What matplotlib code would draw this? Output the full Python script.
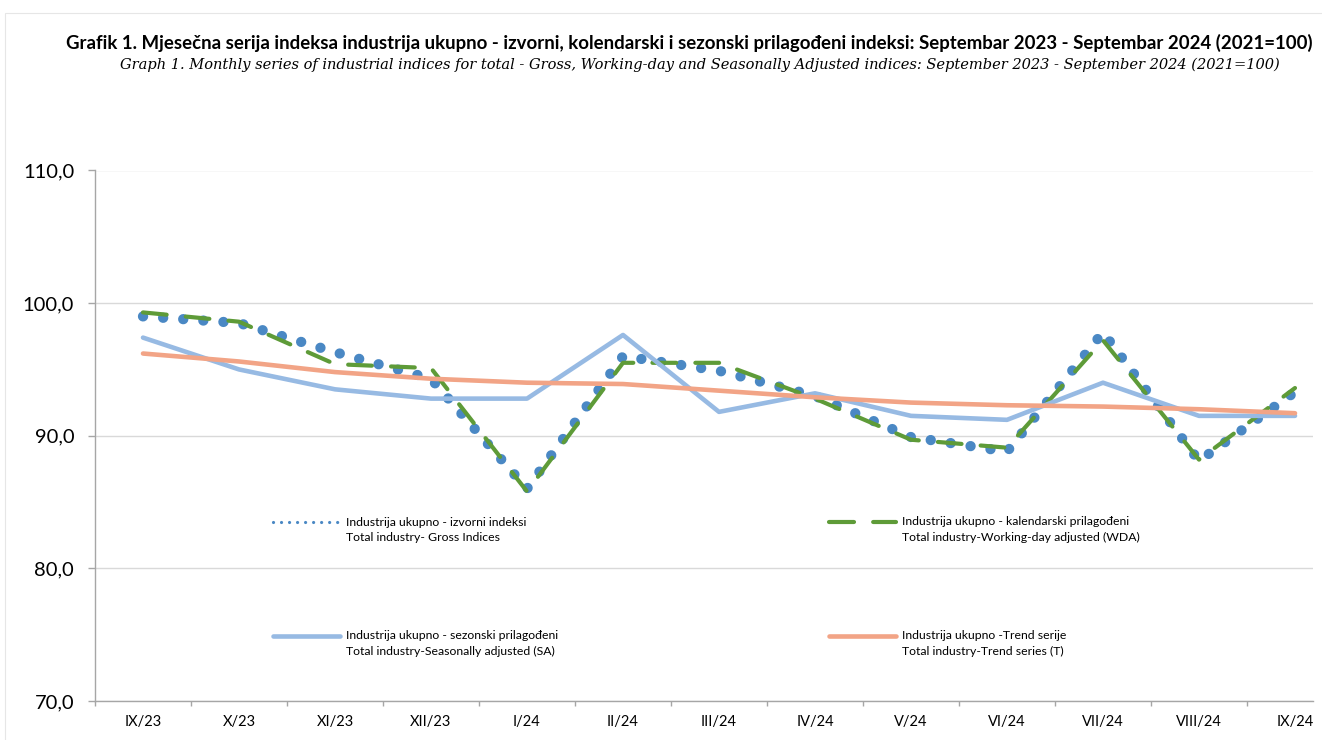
import numpy as np
import matplotlib
matplotlib.use('Agg')
import matplotlib.pyplot as plt
from matplotlib.lines import Line2D
from matplotlib.patches import Rectangle
from matplotlib.ticker import FuncFormatter

# data
months = ['IX/23', 'X/23', 'XI/23', 'XII/23', 'I/24', 'II/24', 'III/24',
          'IV/24', 'V/24', 'VI/24', 'VII/24', 'VIII/24', 'IX/24']
gross = [99.0, 98.5, 96.3, 94.3, 86.0, 96.0, 94.9, 93.0, 89.9, 88.8, 97.8, 88.1, 93.3]
wda = [99.3, 98.6, 95.4, 95.1, 85.8, 95.5, 95.5, 92.8, 89.7, 89.1, 97.2, 88.2, 93.6]
sa = [97.4, 95.0, 93.5, 92.8, 92.8, 97.6, 91.8, 93.2, 91.5, 91.2, 94.0, 91.5, 91.5]
trend = [96.2, 95.6, 94.8, 94.3, 94.0, 93.9, 93.4, 92.9, 92.5, 92.3, 92.2, 92.0, 91.7]

labels = [
    'Industrija ukupno - izvorni indeksi\nTotal industry- Gross Indices',
    'Industrija ukupno - kalendarski prilagođeni\nTotal industry-Working-day adjusted (WDA)',
    'Industrija ukupno - sezonski prilagođeni\nTotal industry-Seasonally adjusted (SA)',
    'Industrija ukupno -Trend serije\nTotal industry-Trend series (T)',
]
title_bs = ('Grafik 1. Mjesečna serija indeksa industrija ukupno - izvorni, kolendarski i sezonski '
            'prilagođeni indeksi: Septembar 2023 - Septembar 2024 (2021=100)')
title_en = ('Graph 1. Monthly series of industrial indices for total - Gross, Working-day and '
            'Seasonally Adjusted indices: September 2023 - September 2024 (2021=100)')

c_gross = '#4A88C4'
c_wda = '#5E9B38'
c_sa = '#97BAE3'
c_trend = '#F2A486'
grey = '#A6A6A6'

plt.rcParams['font.family'] = ['Lato', 'DejaVu Sans']

W, H = 1322, 740
fig = plt.figure(figsize=(W / 100, H / 100), dpi=100)
fig.patches.append(Rectangle((5 / W, -0.1), 1.2, 1 - 13 / H + 0.1, transform=fig.transFigure,
                             fill=False, edgecolor='#E6E6E6', lw=0.8))
ax = fig.add_axes([95 / W, 1 - 701 / H, (1313 - 95) / W, (701 - 170.5) / H])

x = np.arange(len(months))
ax.plot(x, gross, color=c_gross, lw=7.4, linestyle=(0, (0.01, 1.95)),
        dash_capstyle='round', zorder=2)
ax.plot(x, wda, color=c_wda, lw=3.0, linestyle=(0, (5.7, 4.6)),
        dash_capstyle='round', solid_joinstyle='round', zorder=3)
ax.plot(x, sa, color=c_sa, lw=3.3, solid_joinstyle='round', solid_capstyle='round', zorder=4)
ax.plot(x, trend, color=c_trend, lw=3.3, solid_joinstyle='round', solid_capstyle='round', zorder=5)

ax.set_xlim(-0.5, -0.5 + (1313 - 95) / 96.0)
ax.set_ylim(70, 110)
ax.set_yticks([70, 80, 90, 100, 110])
ax.yaxis.set_major_formatter(FuncFormatter(lambda v, p: f'{v:.1f}'.replace('.', ',')))
ax.set_xticks(np.arange(-0.5, 12.0, 1.0))
ax.set_xticklabels([])
ax.set_xticks(x, minor=True)
ax.set_xticklabels(months, minor=True)

ax.tick_params(axis='y', length=5, width=1, color=grey, pad=10, labelsize=14.5)
ax.tick_params(axis='x', which='major', length=3.3, width=1, color=grey)
ax.tick_params(axis='x', which='minor', length=0, pad=10, labelsize=10.5)

ax.yaxis.grid(True, color='#D9D9D9', lw=1.0)
ax.set_axisbelow(True)
for s in ['top', 'right']:
    ax.spines[s].set_visible(False)
for s in ['left', 'bottom']:
    ax.spines[s].set_color(grey)
    ax.spines[s].set_linewidth(1.0)

# legend entries, handle level with the first text line
handles = [
    Line2D([], [], color=c_gross, lw=2.3, linestyle=(0, (0.01, 2.5)), dash_capstyle='round'),
    Line2D([], [], color=c_wda, lw=3.0, linestyle=(0, (6.0, 4.6)), dash_capstyle='round'),
    Line2D([], [], color=c_sa, lw=3.3, solid_capstyle='round'),
    Line2D([], [], color=c_trend, lw=3.3, solid_capstyle='round'),
]
anchors = [(273, 522), (829, 522), (273, 636), (829, 636)]
for h, lab, (px, py) in zip(handles, labels, anchors):
    leg = fig.legend([h], [' \n' + lab], loc='center left',
                     bbox_to_anchor=(px / W, 1 - py / H), bbox_transform=fig.transFigure,
                     frameon=False, fontsize=8.8, handlelength=5.5, handletextpad=0.45,
                     borderpad=0, borderaxespad=0)
    for t in leg.get_texts():
        t.set_linespacing(1.55)

fig.text(689 / W, 1 - 43 / H, title_bs, ha='center', va='center', fontsize=13.4, fontweight='bold')
fig.text(700 / W, 1 - 65 / H, title_en, ha='center', va='center', fontsize=10.55,
         family='DejaVu Serif', style='italic')

fig.savefig('out.png', dpi=100)
